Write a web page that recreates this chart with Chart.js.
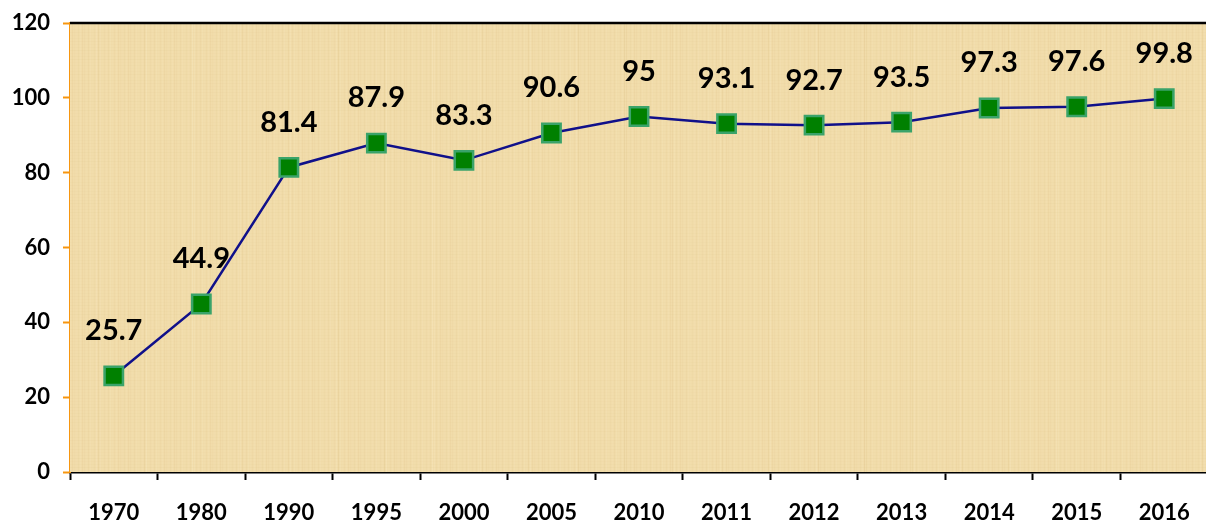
<!DOCTYPE html>
<html>
<head>
<meta charset="utf-8">
<script src="https://cdn.jsdelivr.net/npm/chart.js@4"></script>
<style>
  html, body { margin: 0; padding: 0; background: #fff; overflow: hidden; }
  #chart { display: block; }
</style>
</head>
<body>
<canvas id="chart" width="1208" height="522"></canvas>
<script>
const years = ["1970", "1980", "1990", "1995", "2000", "2005", "2010", "2011", "2012", "2013", "2014", "2015", "2016"];
const values = [25.7, 44.9, 81.4, 87.9, 83.3, 90.6, 95, 93.1, 92.7, 93.5, 97.3, 97.6, 99.8];
const yTicks = [0, 20, 40, 60, 80, 100, 120];

const FONT = "Lato, 'Open Sans', sans-serif";

// paper-like background plus the black top edge of the plot
const paperBackground = {
  id: "paperBackground",
  beforeDatasetsDraw(chart) {
    const { ctx, chartArea: a } = chart;
    ctx.save();
    ctx.fillStyle = "#f1dcaa";
    ctx.fillRect(a.left, a.top, a.right - a.left, a.bottom - a.top);
    // vertical fibres
    for (let x = Math.floor(a.left); x < a.right; x += 2) {
      const k = (x * 37) % 23;
      const alpha = 0.02 + (k / 23) * 0.06 + ((x % 48) < 4 ? 0.06 : 0);
      ctx.fillStyle = k % 2 ? `rgba(200,160,90,${alpha})` : `rgba(255,245,215,${alpha * 1.5})`;
      ctx.fillRect(x, a.top, 1, a.bottom - a.top);
    }
    // horizontal fibres
    for (let y = Math.floor(a.top); y < a.bottom; y += 3) {
      const k = (y * 53) % 17;
      ctx.fillStyle = `rgba(205,170,100,${0.015 + (k / 17) * 0.04})`;
      ctx.fillRect(a.left, y, a.right - a.left, 1);
    }
    ctx.strokeStyle = "#000";
    ctx.lineWidth = 2.5;
    ctx.beginPath();
    ctx.moveTo(a.left, a.top);
    ctx.lineTo(a.right, a.top);
    ctx.stroke();
    ctx.restore();
  },
};

const valueLabels = {
  id: "valueLabels",
  afterDatasetsDraw(chart) {
    const { ctx } = chart;
    const meta = chart.getDatasetMeta(0);
    ctx.save();
    ctx.font = `bold 29px ${FONT}`;
    ctx.fillStyle = "#000";
    ctx.textAlign = "center";
    ctx.textBaseline = "middle";
    meta.data.forEach((pt, i) => {
      ctx.fillText(String(values[i]), pt.x, pt.y - 45);
    });
    ctx.restore();
  },
};

window.onload = () => {
  const canvas = document.getElementById("chart");
  new Chart(canvas, {
    type: "line",
    data: {
      labels: years,
      datasets: [
        {
          data: values,
          borderColor: "#10108a",
          borderWidth: 2.5,
          pointStyle: "rect",
          pointRadius: 13,
          pointHoverRadius: 13,
          pointBackgroundColor: "#008000",
          pointBorderColor: "#3aa36a",
          pointBorderWidth: 2.5,
          tension: 0,
          clip: false,
        },
      ],
    },
    options: {
      responsive: false,
      animation: false,
      layout: { autoPadding: false, padding: { top: 23, right: 0, left: 0, bottom: 0 } },
      plugins: {
        legend: { display: false },
        tooltip: { enabled: false },
      },
      scales: {
        x: {
          offset: true,
          grid: {
            display: true,
            offset: true,
            drawOnChartArea: false,
            drawTicks: true,
            tickLength: 8,
            tickWidth: 2,
            tickColor: "#000",
          },
          border: { display: true, color: "#000", width: 2.5 },
          ticks: {
            color: "#000",
            font: { family: FONT, size: 22, weight: "bold" },
            padding: 20,
            maxRotation: 0,
            autoSkip: false,
          },
          afterFit(scale) {
            scale.height = 50;
            scale.paddingLeft = 0;
            scale.paddingRight = 0;
          },
        },
        y: {
          min: 0,
          max: 120,
          afterBuildTicks(scale) {
            scale.ticks = yTicks.map((v) => ({ value: v }));
          },
          grid: {
            display: true,
            drawOnChartArea: false,
            drawTicks: true,
            tickLength: 7,
            tickWidth: 2,
            tickColor: "#f7960f",
          },
          border: { display: true, color: "#f7960f", width: 2 },
          ticks: {
            color: "#000",
            font: { family: FONT, size: 22, weight: "bold" },
            padding: 13,
          },
          afterFit(scale) {
            scale.width = 70;
            scale.paddingTop = 0;
            scale.paddingBottom = 0;
          },
        },
      },
    },
    plugins: [paperBackground, valueLabels],
  });
};
</script>
</body>
</html>
